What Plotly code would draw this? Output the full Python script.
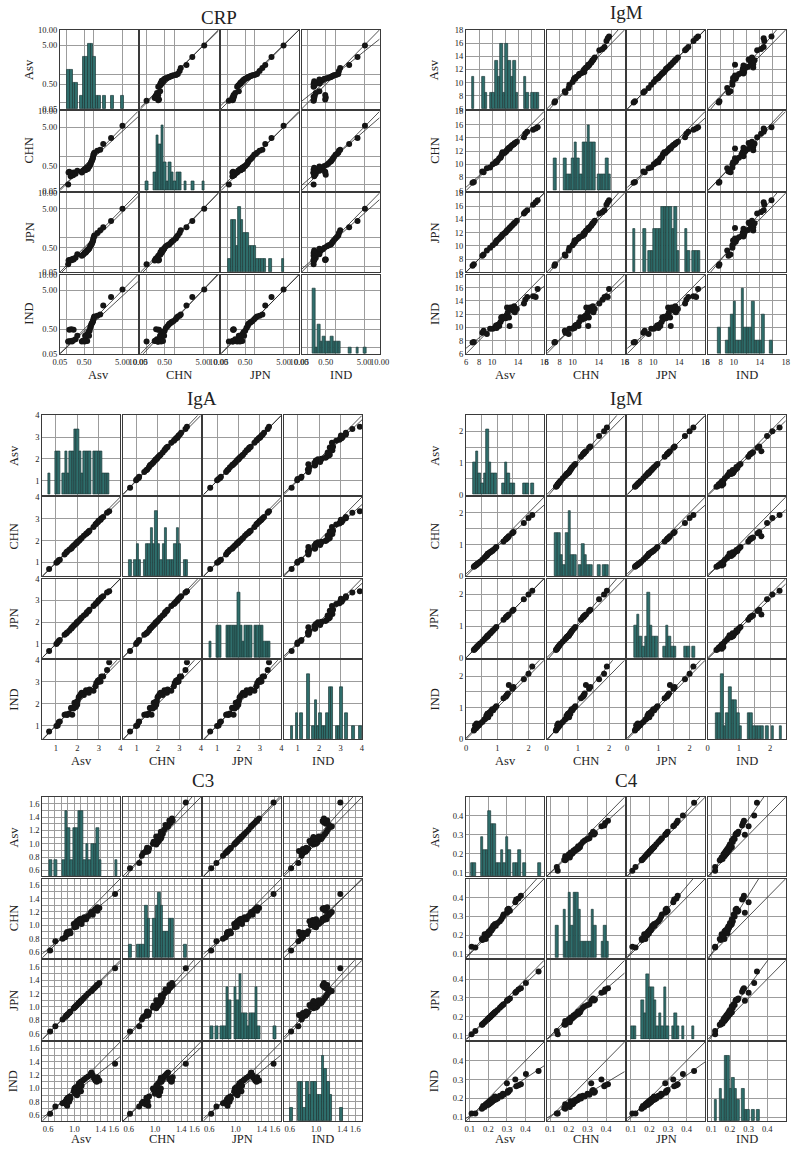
import numpy as np
import plotly.graph_objects as go

W, H = 800, 1152
FONT = "Liberation Serif"
METHODS = ["Asv", "CHN", "JPN", "IND"]

# ---------------- data (one value per sample, same sample order in each method) ----------------
crp_asv = [0.125, 0.13, 0.14, 0.16, 0.17, 0.18, 0.20, 0.21, 0.25, 0.29,
           0.42, 0.45, 0.48, 0.52, 0.54, 0.56, 0.58, 0.60, 0.63, 0.66, 0.69, 0.72, 0.75,
           0.78, 0.81, 0.84, 0.87, 0.90, 0.93, 0.95, 0.97, 1.00, 1.03,
           1.25, 1.50, 1.80, 2.80, 5.00]
crp_chn = [0.10, 0.30, 0.32, 0.22, 0.25, 0.28, 0.24, 0.30, 0.27, 0.35,
           0.30, 0.34, 0.36, 0.38, 0.36, 0.40, 0.38, 0.42, 0.44, 0.40, 0.46, 0.48, 0.50,
           0.55, 0.62, 0.68, 0.72, 0.80, 0.85, 0.95, 1.10, 1.15, 1.25,
           1.40, 1.50, 2.10, 2.90, 5.30]
crp_jpn = [0.12, 0.17, 0.18, 0.17, 0.19, 0.18, 0.20, 0.19, 0.22, 0.30,
           0.26, 0.28, 0.30, 0.33, 0.35, 0.34, 0.36, 0.38, 0.40, 0.42, 0.44, 0.46, 0.50,
           0.55, 0.60, 0.62, 0.65, 0.72, 0.78, 0.85, 0.95, 1.05, 1.15,
           1.35, 1.60, 1.90, 2.70, 5.00]
crp_ind = [0.18, 0.18, 0.48, 0.19, 0.50, 0.18, 0.20, 0.48, 0.22, 0.30,
           0.18, 0.19, 0.20, 0.18, 0.30, 0.20, 0.28, 0.32, 0.19, 0.35, 0.40, 0.30, 0.45,
           0.55, 0.62, 0.70, 0.75, 0.80, 0.85, 0.90, 1.00, 1.10, 1.20,
           1.25, 1.35, 2.30, 3.60, 5.20]

igm_asv = [7.0, 7.2, 8.5, 8.7, 9.2, 9.7, 10.1, 10.5, 10.6, 10.7, 10.9, 11.1, 11.3, 11.4, 11.5, 11.6,
           11.9, 12.1, 12.2, 12.3, 12.4, 12.6, 12.7, 12.8, 13.0, 13.1, 13.3, 13.4, 13.5, 13.8,
           14.9, 15.1, 15.4, 16.3, 16.7, 17.0]
igm_chn = [7.2, 7.3, 8.9, 8.8, 9.4, 9.5, 10.0, 10.2, 10.4, 10.3, 10.6, 10.9, 11.0, 11.2, 11.5, 11.8,
           11.7, 11.9, 12.0, 12.1, 12.3, 12.5, 12.4, 12.6, 12.8, 12.9, 13.0, 13.1, 13.2, 13.4,
           14.1, 14.6, 14.9, 15.2, 15.4, 15.6]
igm_jpn = [7.0, 7.2, 8.5, 8.7, 9.3, 9.7, 10.1, 10.4, 10.6, 10.8, 10.9, 11.1, 11.3, 11.4, 11.5, 11.7,
           11.9, 12.0, 12.2, 12.3, 12.4, 12.6, 12.7, 12.8, 13.0, 13.1, 13.3, 13.4, 13.5, 13.8,
           14.9, 15.1, 15.4, 16.2, 16.6, 16.9]
igm_ind = [7.7, 7.8, 9.2, 9.5, 9.0, 9.8, 9.8, 10.0, 10.3, 9.9, 10.4, 10.2, 10.8, 11.5, 11.2, 11.6,
           11.5, 11.4, 11.8, 13.0, 12.2, 11.5, 10.2, 13.0, 12.7, 13.0, 12.5, 13.2, 12.3, 12.8,
           13.6, 14.2, 14.6, 14.7, 14.6, 15.8]

iga_asv = [0.68, 1.02, 1.08, 1.13, 1.18, 1.40, 1.48, 1.52, 1.62, 1.70, 1.73, 1.76, 1.82, 1.86,
           1.93, 1.96, 1.99, 2.01, 2.06, 2.10, 2.16, 2.20, 2.30, 2.40, 2.44, 2.50, 2.53, 2.56,
           2.75, 2.84, 2.88, 2.95, 2.98, 3.01, 3.08, 3.12, 3.20, 3.38, 3.48]
iga_chn = [0.70, 0.98, 1.03, 1.10, 1.12, 1.36, 1.45, 1.50, 1.58, 1.62, 1.66, 1.70, 1.76, 1.80,
           1.86, 1.88, 1.92, 1.95, 1.98, 2.02, 2.08, 2.12, 2.22, 2.30, 2.33, 2.38, 2.42, 2.45,
           2.62, 2.74, 2.78, 2.84, 2.90, 2.92, 2.96, 3.02, 3.08, 3.28, 3.35]
iga_jpn = [0.68, 1.00, 1.07, 1.14, 1.18, 1.42, 1.48, 1.53, 1.60, 1.70, 1.72, 1.77, 1.82, 1.87,
           1.92, 1.97, 1.99, 2.02, 2.05, 2.10, 2.17, 2.21, 2.30, 2.38, 2.45, 2.49, 2.52, 2.57,
           2.74, 2.83, 2.87, 2.94, 2.99, 3.02, 3.07, 3.13, 3.19, 3.36, 3.42]
iga_ind = [0.72, 0.98, 1.00, 1.15, 1.18, 1.50, 1.52, 1.48, 1.55, 1.80, 1.82, 1.50, 1.78, 2.05,
           1.85, 2.08, 1.95, 2.12, 2.30, 2.35, 2.45, 2.50, 2.40, 2.62, 2.55, 2.58, 2.50, 2.65,
           2.60, 2.80, 2.95, 3.05, 3.00, 3.10, 3.02, 3.25, 3.25, 3.55, 3.90]

igm2_asv = [0.25, 0.27, 0.29, 0.32, 0.34, 0.36, 0.38, 0.42, 0.45, 0.52, 0.58, 0.62, 0.65, 0.67,
            0.68, 0.69, 0.70, 0.71, 0.75, 0.78, 0.80, 0.84, 0.87, 0.93, 0.97, 1.20, 1.27, 1.29,
            1.31, 1.34, 1.37, 1.48, 1.52, 1.85, 2.00, 2.12]
igm2_chn = [0.30, 0.32, 0.34, 0.35, 0.37, 0.39, 0.40, 0.43, 0.46, 0.52, 0.58, 0.62, 0.64, 0.66,
            0.68, 0.70, 0.70, 0.72, 0.74, 0.76, 0.78, 0.80, 0.83, 0.88, 0.92, 1.10, 1.16, 1.18,
            1.20, 1.22, 1.26, 1.36, 1.40, 1.68, 1.84, 1.93]
igm2_jpn = [0.25, 0.27, 0.29, 0.32, 0.34, 0.36, 0.38, 0.42, 0.45, 0.52, 0.58, 0.62, 0.65, 0.67,
            0.68, 0.69, 0.70, 0.71, 0.75, 0.78, 0.80, 0.84, 0.87, 0.93, 0.97, 1.20, 1.27, 1.29,
            1.31, 1.34, 1.37, 1.48, 1.52, 1.85, 2.00, 2.12]
igm2_ind = [0.28, 0.32, 0.45, 0.35, 0.50, 0.40, 0.48, 0.45, 0.50, 0.55, 0.62, 0.65, 0.75, 0.70,
            0.80, 0.72, 0.82, 0.70, 0.85, 0.80, 0.90, 0.95, 0.92, 1.00, 1.05, 1.30, 1.35, 1.38,
            1.40, 1.45, 1.72, 1.60, 1.65, 1.90, 2.07, 2.30]

c3_asv = [0.63, 0.71, 0.82, 0.86, 0.88, 0.88, 0.89, 0.90, 0.92, 0.93, 0.94, 0.99, 1.00, 1.01,
          1.02, 1.03, 1.04, 1.06, 1.07, 1.07, 1.08, 1.10, 1.10, 1.11, 1.13, 1.15, 1.18, 1.21,
          1.25, 1.26, 1.28, 1.30, 1.32, 1.34, 1.35, 1.35, 1.38, 1.62]
c3_chn = [0.62, 0.76, 0.80, 0.82, 0.86, 0.88, 0.90, 0.87, 0.89, 0.91, 0.88, 1.02, 0.97, 1.00,
          1.04, 0.98, 1.06, 1.03, 1.08, 1.05, 1.09, 1.06, 1.10, 1.02, 1.08, 1.12, 1.09, 1.14,
          1.18, 1.20, 1.16, 1.22, 1.24, 1.25, 1.22, 1.27, 1.26, 1.47]
c3_jpn = [0.63, 0.71, 0.81, 0.85, 0.87, 0.87, 0.88, 0.89, 0.91, 0.92, 0.93, 0.98, 0.99, 1.00,
          1.01, 1.02, 1.03, 1.05, 1.06, 1.06, 1.07, 1.09, 1.09, 1.10, 1.12, 1.14, 1.17, 1.20,
          1.23, 1.24, 1.26, 1.28, 1.30, 1.32, 1.33, 1.33, 1.36, 1.58]
c3_ind = [0.62, 0.73, 0.78, 0.80, 0.76, 0.84, 0.74, 0.86, 0.80, 0.88, 0.85, 0.96, 1.00, 0.92,
          1.02, 0.98, 0.90, 1.05, 0.95, 1.08, 1.00, 0.96, 1.10, 1.04, 1.12, 1.14, 1.16, 1.18,
          1.22, 1.24, 1.20, 1.15, 1.12, 1.10, 1.14, 1.17, 1.12, 1.37]

c4_asv = [0.110, 0.130, 0.165, 0.168, 0.172, 0.180, 0.186, 0.194, 0.197, 0.200, 0.203, 0.207,
          0.210, 0.213, 0.217, 0.220, 0.223, 0.226, 0.230, 0.233, 0.236, 0.240, 0.250, 0.262,
          0.270, 0.278, 0.282, 0.300, 0.302, 0.305, 0.308, 0.316, 0.345, 0.350, 0.362, 0.375,
          0.402, 0.470]
c4_chn = [0.140, 0.135, 0.180, 0.175, 0.185, 0.205, 0.180, 0.210, 0.200, 0.215, 0.220, 0.210,
          0.225, 0.230, 0.225, 0.240, 0.235, 0.250, 0.245, 0.255, 0.260, 0.250, 0.265, 0.275,
          0.285, 0.300, 0.310, 0.320, 0.335, 0.325, 0.340, 0.330, 0.375, 0.390, 0.395, 0.410,
          None, None]
c4_jpn = [0.108, 0.125, 0.158, 0.160, 0.165, 0.172, 0.178, 0.185, 0.188, 0.191, 0.194, 0.197,
          0.200, 0.203, 0.207, 0.210, 0.212, 0.215, 0.219, 0.222, 0.225, 0.228, 0.237, 0.248,
          0.256, 0.263, 0.267, 0.285, 0.287, 0.290, 0.292, 0.298, 0.328, 0.333, 0.345, 0.352,
          0.380, 0.440]
c4_ind = [0.120, 0.120, 0.145, 0.150, 0.160, 0.155, 0.170, 0.175, 0.165, 0.180, 0.170, 0.185,
          0.175, 0.190, 0.180, 0.195, 0.185, 0.200, 0.190, 0.205, 0.210, 0.195, 0.200, 0.215,
          0.210, 0.225, 0.220, 0.280, 0.230, 0.240, 0.235, 0.245, 0.300, 0.265, 0.270, 0.275,
          0.330, 0.345]

# ---------------- tick labels ----------------
crp_ticks = [0.05, 0.1, 0.5, 1, 5, 10]
crp_text = ["0.05", "", "0.50", "", "5.00", "10.00"]
igm_ticks = [6, 8, 10, 12, 14, 16, 18]
igm_xtext = ["6", "8", "10", "", "14", "", "18"]
igm_ytext = ["6", "8", "10", "12", "14", "16", "18"]
iga_ticks = [1, 2, 3, 4]
iga_text = ["1", "2", "3", "4"]
igm2_ticks = [0, 0.5, 1, 1.5, 2]
igm2_text = ["0", "", "1", "", "2"]
c3_ticks = [0.6, 0.7, 0.8, 0.9, 1.0, 1.1, 1.2, 1.3, 1.4, 1.5, 1.6]
c3_xtext = ["0.6", "", "", "", "1.0", "", "", "", "1.4", "", "1.6"]
c3_ytext = ["0.6", "", "0.8", "", "1.0", "", "1.2", "", "1.4", "", "1.6"]
c4_ticks = [0.1, 0.2, 0.3, 0.4]
c4_text = ["0.1", "0.2", "0.3", "0.4"]

# ---------------- panel configuration (layout / style) ----------------
panels = [
    dict(title="CRP", series=[crp_asv, crp_chn, crp_jpn, crp_ind], lo=0.05, hi=10.0, power=0.2,
         ticks=crp_ticks, xtext=crp_text, ytext=crp_text, binw=0.034,
         x0=54, y0=25, tx=217, ty=13, rlx=23, cly=373),
    dict(title="IgM", series=[igm_asv, igm_chn, igm_jpn, igm_ind], lo=6, hi=18, power=None,
         ticks=igm_ticks, xtext=igm_xtext, ytext=igm_ytext, binw=0.4,
         x0=469, y0=25, tx=633, ty=8, rlx=437, cly=373),
    dict(title="IgA", series=[iga_asv, iga_chn, iga_jpn, iga_ind], lo=0.36, hi=4.0, power=None,
         ticks=iga_ticks, xtext=iga_text, ytext=iga_text, binw=0.11,
         x0=36, y0=414, tx=199, ty=397, rlx=7, cly=763),
    dict(title="IgM", series=[igm2_asv, igm2_chn, igm2_jpn, igm2_ind], lo=0.0, hi=2.5, power=None,
         ticks=igm2_ticks, xtext=igm2_text, ytext=igm2_text, binw=0.085,
         x0=469, y0=414, tx=633, ty=397, rlx=437, cly=763),
    dict(title="C3", series=[c3_asv, c3_chn, c3_jpn, c3_ind], lo=0.51, hi=1.70, power=None,
         ticks=c3_ticks, xtext=c3_xtext, ytext=c3_ytext, binw=0.04,
         x0=36, y0=799, tx=200, ty=782, rlx=7, cly=1144),
    dict(title="C4", series=[c4_asv, c4_chn, c4_jpn, c4_ind], lo=0.08, hi=0.50, power=None,
         ticks=c4_ticks, xtext=c4_text, ytext=c4_text, binw=0.0135,
         x0=469, y0=799, tx=633, ty=782, rlx=437, cly=1144),
]

STEP = 82.3
CW = 79.8
CH = 80.0
GRID = "#9c9c9c"
FRAME = "#3a3a3a"
BAR = "#2f6e6c"
BAR_EDGE = "#1e3b3a"
MARK = "#151515"
LINE = "#262626"
TICKFONT = dict(family=FONT, size=8.5, color="#222222")


def tf(vals, power):
    a = np.array([np.nan if v is None else v for v in vals], dtype=float)
    return a ** power if power else a


def ax_name(k, kind):
    return kind if k == 1 else f"{kind}{k}"


def axis_style(**kw):
    d = dict(showgrid=True, gridcolor=GRID, gridwidth=0.9, zeroline=False,
             showline=True, mirror=True, linecolor=FRAME, linewidth=1,
             ticks="", tickfont=TICKFONT, tickangle=0, fixedrange=True)
    d.update(kw)
    return d


fig = go.Figure()
layout = {}
annotations = []

for p, P in enumerate(panels):
    pw = P["power"]
    lo = P["lo"] ** pw if pw else P["lo"]
    hi = P["hi"] ** pw if pw else P["hi"]
    tickpos = np.array(tf(P["ticks"], pw))
    data = [tf(s, pw) for s in P["series"]]

    for r in range(4):
        for c in range(4):
            k = p * 16 + r * 4 + c + 1
            xl = P["x0"] + c * STEP
            yt = P["y0"] + r * STEP
            dom_x = [xl / W, (xl + CW) / W]
            dom_y = [1 - (yt + CH) / H, 1 - yt / H]
            xref, yref = ax_name(k, "x"), ax_name(k, "y")
            layout[ax_name(k, "xaxis")] = axis_style(
                domain=dom_x, range=[lo, hi], anchor=yref,
                tickvals=list(tickpos), ticktext=P["xtext"], showticklabels=(r == 3))

            if r == c:
                # histogram: y axis counts; grid lines / labels placed at the value positions
                v = data[c][np.isfinite(data[c])]
                bw = P["binw"]
                start = v.min() - 0.35 * bw
                edges = np.arange(start, v.max() + bw, bw)
                counts, _ = np.histogram(v, bins=edges)
                ymax = counts.max() / 0.82
                ytick_counts = (tickpos - lo) / (hi - lo) * ymax
                layout[ax_name(k, "yaxis")] = axis_style(
                    domain=dom_y, range=[0, ymax], anchor=xref,
                    tickvals=list(ytick_counts), ticktext=P["ytext"], showticklabels=(c == 0))
                fig.add_trace(go.Histogram(
                    x=v, xbins=dict(start=start, end=edges[-1], size=bw),
                    marker=dict(color=BAR, line=dict(color=BAR_EDGE, width=0.7)),
                    xaxis=xref, yaxis=yref, hoverinfo="skip"))
            else:
                layout[ax_name(k, "yaxis")] = axis_style(
                    domain=dom_y, range=[lo, hi], anchor=xref,
                    tickvals=list(tickpos), ticktext=P["ytext"], showticklabels=(c == 0))
                xv, yv = data[c], data[r]
                m = np.isfinite(xv) & np.isfinite(yv)
                xv, yv = xv[m], yv[m]
                slope, icpt = np.polyfit(xv, yv, 1)
                fig.add_trace(go.Scatter(x=[lo, hi], y=[lo, hi], mode="lines",
                                         line=dict(color=LINE, width=0.8),
                                         xaxis=xref, yaxis=yref, hoverinfo="skip"))
                fig.add_trace(go.Scatter(x=[lo, hi], y=[icpt + slope * lo, icpt + slope * hi],
                                         mode="lines", line=dict(color=LINE, width=0.8),
                                         xaxis=xref, yaxis=yref, hoverinfo="skip"))
                fig.add_trace(go.Scatter(x=xv, y=yv, mode="markers",
                                         marker=dict(color=MARK, size=6),
                                         xaxis=xref, yaxis=yref))

    annotations.append(dict(text=P["title"], x=P["tx"] / W, y=1 - P["ty"] / H, xref="paper", yref="paper",
                            showarrow=False, xanchor="center", yanchor="middle",
                            font=dict(family=FONT, size=19, color="#222222")))
    for i, name in enumerate(METHODS):
        annotations.append(dict(text=name, x=P["rlx"] / W,
                                y=1 - (P["y0"] + i * STEP + CH / 2) / H,
                                xref="paper", yref="paper", showarrow=False, textangle=-90,
                                xanchor="center", yanchor="middle",
                                font=dict(family=FONT, size=12.5, color="#222222")))
        annotations.append(dict(text=name, x=(P["x0"] + i * STEP + CW / 2) / W,
                                y=1 - P["cly"] / H, xref="paper", yref="paper", showarrow=False,
                                xanchor="center", yanchor="middle",
                                font=dict(family=FONT, size=12.5, color="#222222")))

fig.update_layout(**layout)
fig.update_layout(width=W, height=H, margin=dict(l=0, r=0, t=0, b=0),
                  paper_bgcolor="white", plot_bgcolor="white", showlegend=False,
                  bargap=0, annotations=annotations, font=dict(family=FONT))

fig.write_html("out.html", config={"displayModeBar": False},
               post_script="document.body.style.margin='0px';")
